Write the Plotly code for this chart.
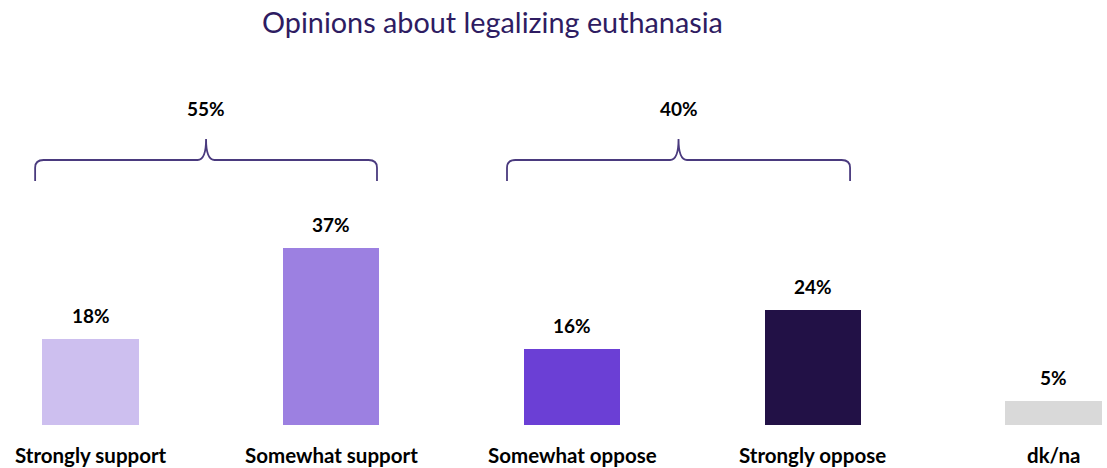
import plotly.graph_objects as go

categories = ["Strongly support", "Somewhat support", "Somewhat oppose", "Strongly oppose", "dk/na"]
values = [18, 37, 16, 24, 5]
colors = ["#CDBFEF", "#9C80E1", "#6B3FD5", "#221146", "#D9D9D9"]
group_labels = ["55%", "40%"]
group_members = [(0, 1), (2, 3)]
title = "Opinions about legalizing euthanasia"

# bracket horizontal extents relative to first/last bar centre (style)
bracket_pad = [(-0.23, 0.19), (-0.27, 0.155)]

W, H = 1107, 468
base_px = 425
px_per_unit = 4.78
ytop = base_px / px_per_unit
xs = list(range(len(categories)))

fig = go.Figure()
fig.add_trace(go.Bar(
    x=xs, y=values, width=0.4,
    marker=dict(color=colors, line=dict(width=0)),
    hoverinfo="skip", showlegend=False,
))

# value labels
for x, v in zip(xs, values):
    fig.add_annotation(x=x, y=v, text=f"<b>{v}%</b>", showarrow=False,
                       yanchor="bottom", yshift=10,
                       font=dict(family="Lato", size=19, color="#000000", weight=900))

# category labels
for x, c in zip(xs, categories):
    fig.add_annotation(x=x, y=-(455 - base_px) / base_px, yref="paper", text=f"<b>{c}</b>",
                       showarrow=False, yanchor="middle",
                       font=dict(family="Lato", size=20.5, color="#000000"))

# brackets
y_mid = (base_px - 160) / px_per_unit
y_end = (base_px - 181) / px_per_unit
y_peak = (base_px - 139) / px_per_unit
rx = 0.035
ry = 1.6
for label, (i, j), (pl, pr) in zip(group_labels, group_members, bracket_pad):
    xl = i + pl
    xr = j + pr
    xc = (xl + xr) / 2
    path = (
        f"M {xl},{y_end} L {xl},{y_mid - ry} Q {xl},{y_mid} {xl + rx},{y_mid} "
        f"L {xc - rx},{y_mid} Q {xc},{y_mid} {xc},{y_peak} "
        f"Q {xc},{y_mid} {xc + rx},{y_mid} "
        f"L {xr - rx},{y_mid} Q {xr},{y_mid} {xr},{y_mid - ry} L {xr},{y_end}"
    )
    fig.add_shape(type="path", path=path, xref="x", yref="y",
                  line=dict(color="#4A3A7E", width=1.8))
    fig.add_annotation(x=xc, y=(base_px - 108) / px_per_unit, text=f"<b>{label}</b>",
                       showarrow=False, yanchor="middle",
                       font=dict(family="Lato", size=19, color="#000000", weight=900))

# title
fig.add_annotation(x=492 / W, y=(base_px - 22) / base_px, xref="paper", yref="paper",
                   text=title, showarrow=False, yanchor="middle", xanchor="center",
                   font=dict(family="Lato", size=28.8, color="#2E1C62"))

x0 = -90.5 / 240.75
x1 = (W - 90.5) / 240.75
fig.update_layout(
    width=W, height=H,
    margin=dict(l=0, r=0, t=0, b=H - base_px),
    paper_bgcolor="white", plot_bgcolor="white",
    xaxis=dict(range=[x0, x1], visible=False, fixedrange=True),
    yaxis=dict(range=[0, ytop], visible=False, fixedrange=True),
    bargap=0,
)
fig.write_html("out.html")
